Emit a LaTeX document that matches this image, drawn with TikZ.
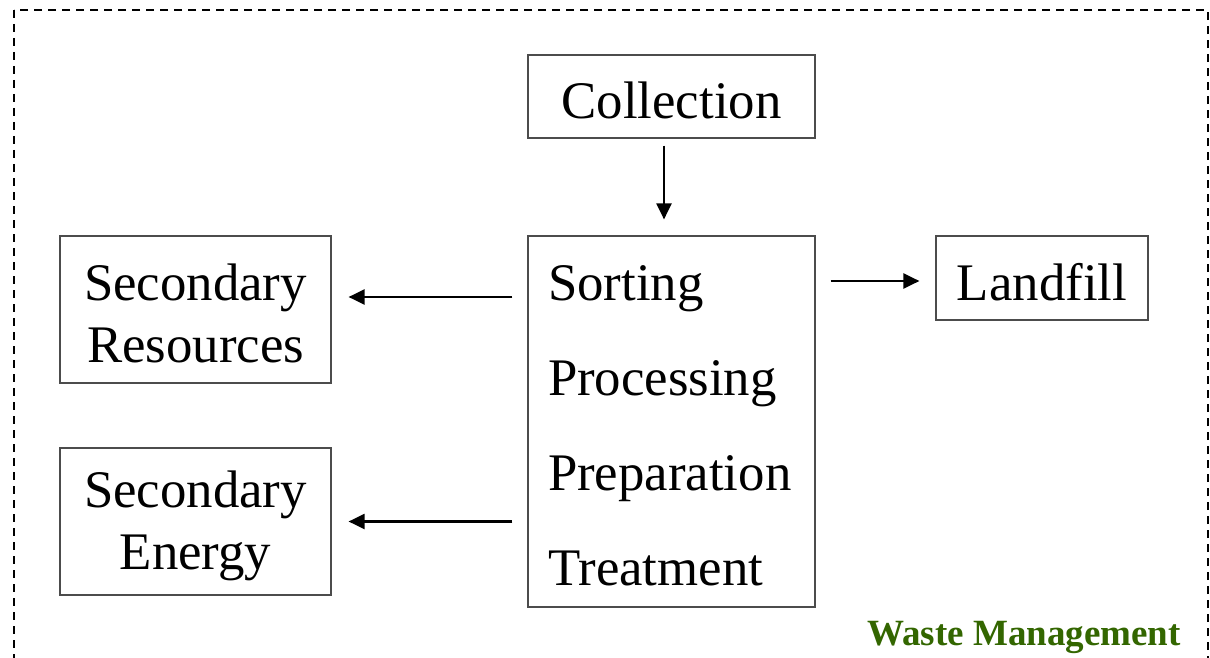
\documentclass[tikz,border=0pt]{standalone}
\usepackage{fontspec}
\setmainfont{Liberation Serif}
\usetikzlibrary{arrows.meta,calc}
\definecolor{wmgreen}{RGB}{51,102,0}
\begin{document}
\begin{tikzpicture}[x=0.5pt,y=-0.5pt,
  box/.style={draw=black!70, line width=0.6pt, rectangle, inner sep=0pt},
  big/.style={font=\fontsize{26.4}{31}\selectfont, inner sep=0pt},
  arr/.style={-{Triangle[length=8pt,width=7.5pt]}, line width=1.1pt}]
\clip (0,0) rectangle (1210,658);
\draw[line width=1.2pt, dash pattern=on 4pt off 3pt] (14,10) rectangle (1208,720);
% boxes
\node[box, minimum width=143.5pt, minimum height=41.5pt] (coll) at (671.5,96.5) {};
\node[box, minimum width=143.5pt, minimum height=185.5pt] (proc) at (671.5,421.5) {};
\node[box, minimum width=135.5pt, minimum height=73.5pt] (sres) at (195.5,309.5) {};
\node[box, minimum width=135.5pt, minimum height=73.5pt] (sen) at (195.5,521.5) {};
\node[box, minimum width=106pt, minimum height=42pt] (land) at (1042,278) {};
% texts
\node[big] (collt) at ($(coll.center)+(0,-2pt)$) {Collection};
\node[big, text width=123.5pt, align=left, font=\fontsize{26.4}{47.5}\selectfont] (proct)
  at ($(proc.center)+(0,-2.3pt)$) {Sorting\\Processing\\Preparation\\Treatment};
\node[big, align=center] (srest) at ($(sres.center)+(0,-2pt)$) {Secondary\\Resources};
\node[big, align=center] (sent) at ($(sen.center)+(0,-2pt)$) {Secondary\\Energy};
\node[big] (landt) at ($(land.center)+(0,-2pt)$) {Landfill};
\node[font=\fontsize{18.5}{22}\selectfont\bfseries, text=wmgreen, inner sep=0pt] (wm) at (1024,637) {Waste Management};
% connectors
\draw[arr] ($(coll.south)+(-3.75pt,-3.5pt)$) -- ($(proc.north)+(-3.75pt,8pt)$);
\draw[arr] ($(proc.west |- sres.east)+(-7.5pt,6.25pt)$) -- ($(sres.east)+(8.5pt,6.25pt)$);
\draw[arr] ($(proc.west |- sen.east)+(-7.5pt,0pt)$) -- ($(sen.east)+(8.5pt,0pt)$);
\draw[arr] ($(proc.east |- land.west)+(7.5pt,-1.5pt)$) -- ($(land.west)+(-8pt,-1.5pt)$);
\end{tikzpicture}
\end{document}
